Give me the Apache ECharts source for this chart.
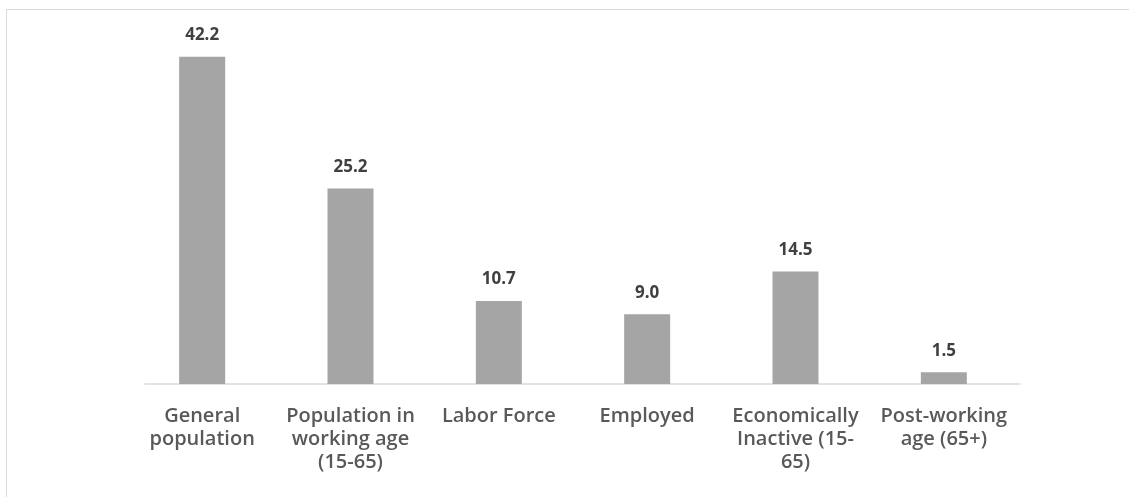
<!DOCTYPE html>
<html>
<head>
<meta charset="utf-8">
<script src="https://cdn.jsdelivr.net/npm/echarts@6/dist/echarts.min.js"></script>
<style>html,body{margin:0;padding:0;background:#fff;}#chart{width:1129px;height:497px;}</style>
</head>
<body>
<div id="chart"></div>
<script>
var categories = ["General\npopulation", "Population in\nworking age\n(15-65)", "Labor Force", "Employed", "Economically\nInactive (15-\n65)", "Post-working\nage (65+)"];
var values = [42.2, 25.2, 10.7, 9.0, 14.5, 1.5];

var chart = echarts.init(document.getElementById('chart'));
chart.setOption({
  animation: false,
  graphic: [{
    type: 'rect', shape: {x: 6.5, y: 9.5, width: 1200, height: 600},
    style: {fill: 'none', stroke: '#d9d9d9', lineWidth: 1}, silent: true, z: -1
  }],
  grid: [
    {left: 128, right: 111, top: 35, bottom: 113},
    {left: 145, right: 109, top: 35, bottom: 113}
  ],
  xAxis: [{
    type: 'category', data: categories, gridIndex: 0,
    axisLine: {show: false}, axisTick: {show: false},
    axisLabel: {color: '#595959', fontFamily: 'Open Sans', fontSize: 20, fontWeight: 600, lineHeight: 23, margin: 21, interval: 0}
  }, {
    type: 'category', data: categories, gridIndex: 1,
    axisLine: {show: true, lineStyle: {color: '#d9d9d9', width: 1.5}},
    axisTick: {show: false}, axisLabel: {show: false}
  }],
  yAxis: [{
    type: 'value', min: 0, max: 45, gridIndex: 0, show: false
  }, {
    type: 'value', min: 0, max: 45, gridIndex: 1, show: false
  }],
  series: [{
    type: 'bar', data: values, barWidth: 46, xAxisIndex: 0, yAxisIndex: 0,
    itemStyle: {color: '#a5a5a5'},
    label: {show: true, position: 'top', distance: 13, color: '#404040', fontFamily: 'Open Sans', fontSize: 17, fontWeight: 'bold',
      formatter: function (p) { return p.value.toFixed(1); }}
  }]
});
</script>
</body>
</html>
